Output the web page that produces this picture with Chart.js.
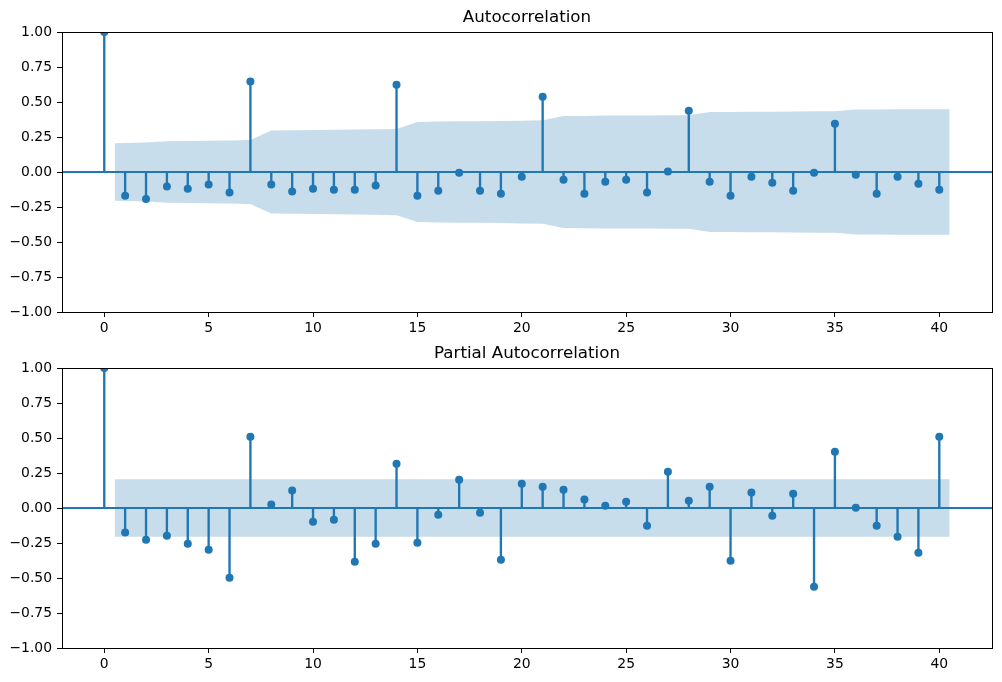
<!DOCTYPE html>
<html>
<head>
<meta charset="utf-8">
<script src="https://cdn.jsdelivr.net/npm/chart.js@4.4.1/dist/chart.umd.min.js"></script>
<style>
  body { margin: 0; background: #fff; }
  canvas { display: block; }
</style>
</head>
<body>
<canvas id="acfChart" width="1002" height="341"></canvas>
<canvas id="pacfChart" width="1002" height="341"></canvas>
<script>
const lags = [0, 1, 2, 3, 4, 5, 6, 7, 8, 9, 10, 11, 12, 13, 14, 15, 16, 17, 18, 19, 20,
              21, 22, 23, 24, 25, 26, 27, 28, 29, 30, 31, 32, 33, 34, 35, 36, 37, 38, 39, 40];

const acfValues = [1.000, -0.169, -0.193, -0.104, -0.119, -0.090, -0.147, 0.646, -0.090, -0.140, -0.119,
                   -0.126, -0.126, -0.097, 0.624, -0.169, -0.133, -0.005, -0.133, -0.155, -0.033,
                   0.538, -0.055, -0.155, -0.069, -0.055, -0.147, 0.003, 0.438, -0.069, -0.169,
                   -0.033, -0.076, -0.133, -0.005, 0.345, -0.019, -0.155, -0.033, -0.083, -0.126];

// half-width of the confidence band, lags 1..40
const acfBand = [0.206, 0.211, 0.219, 0.221, 0.223, 0.225, 0.229, 0.297, 0.298, 0.300,
                 0.302, 0.304, 0.306, 0.308, 0.357, 0.361, 0.363, 0.363, 0.365, 0.367,
                 0.369, 0.400, 0.401, 0.403, 0.404, 0.404, 0.406, 0.406, 0.428, 0.428,
                 0.431, 0.431, 0.432, 0.434, 0.434, 0.446, 0.446, 0.448, 0.449, 0.449];

const pacfValues = [1.000, -0.174, -0.226, -0.198, -0.255, -0.298, -0.498, 0.510, 0.026, 0.126, -0.098,
                    -0.083, -0.383, -0.255, 0.317, -0.248, -0.048, 0.202, -0.033, -0.369, 0.174,
                    0.152, 0.131, 0.060, 0.017, 0.045, -0.126, 0.260, 0.052, 0.152, -0.376,
                    0.110, -0.055, 0.102, -0.562, 0.402, 0.002, -0.126, -0.205, -0.319, 0.510];

const pacfBand = [0.205, 0.205, 0.205, 0.205, 0.205, 0.205, 0.205, 0.205, 0.205, 0.205,
                  0.205, 0.205, 0.205, 0.205, 0.205, 0.205, 0.205, 0.205, 0.205, 0.205,
                  0.205, 0.205, 0.205, 0.205, 0.205, 0.205, 0.205, 0.205, 0.205, 0.205,
                  0.205, 0.205, 0.205, 0.205, 0.205, 0.205, 0.205, 0.205, 0.205, 0.205];

const xTicks = [0, 5, 10, 15, 20, 25, 30, 35, 40];
const yTicks = [-1.00, -0.75, -0.50, -0.25, 0.00, 0.25, 0.50, 0.75, 1.00];

const BLUE = '#1f77b4';
const X_MIN = -2.025, X_MAX = 42.525;
const FONT = "'DejaVu Sans', sans-serif";

// box around the plot area, like matplotlib spines
const framePlugin = {
    id: 'frame',
    afterDraw(chart) {
        const a = chart.chartArea;
        const ctx = chart.ctx;
        ctx.save();
        ctx.strokeStyle = '#000';
        ctx.lineWidth = 1;
        ctx.strokeRect(Math.round(a.left) + 0.5, Math.round(a.top) + 0.5,
                       Math.round(a.right - a.left), Math.round(a.bottom - a.top));
        ctx.restore();
    }
};

function makeCorrChart(canvasId, title, values, band, axisHeight, titlePad) {
    const ctx = document.getElementById(canvasId).getContext('2d');

    // band runs from lag 1 - 0.5 to lag 40 + 0.5
    const bandX = lags.slice(1).map((l, i, arr) => {
        if (i === 0) return l - 0.5;
        if (i === arr.length - 1) return l + 0.5;
        return l;
    });

    new Chart(ctx, {
        type: 'bar',
        data: {
            datasets: [
                {
                    type: 'line',
                    data: bandX.map((x, i) => ({ x: x, y: band[i] })),
                    borderColor: 'rgba(0,0,0,0)',
                    borderWidth: 0,
                    pointRadius: 0,
                    fill: '+1',
                    backgroundColor: 'rgba(31, 119, 180, 0.25)',
                    order: 4
                },
                {
                    type: 'line',
                    data: bandX.map((x, i) => ({ x: x, y: -band[i] })),
                    borderColor: 'rgba(0,0,0,0)',
                    borderWidth: 0,
                    pointRadius: 0,
                    fill: false,
                    order: 4
                },
                {
                    type: 'line',
                    data: [{ x: X_MIN, y: 0 }, { x: X_MAX, y: 0 }],
                    borderColor: BLUE,
                    borderWidth: 1.8,
                    pointRadius: 0,
                    fill: false,
                    order: 3
                },
                {
                    type: 'bar',
                    data: lags.map((l, i) => ({ x: l, y: values[i] })),
                    backgroundColor: BLUE,
                    borderWidth: 0,
                    barThickness: 1.7,
                    order: 2
                },
                {
                    type: 'scatter',
                    data: lags.map((l, i) => ({ x: l, y: values[i] })),
                    backgroundColor: BLUE,
                    borderWidth: 0,
                    pointRadius: 4,
                    clip: 0,
                    order: 1
                }
            ]
        },
        options: {
            responsive: false,
            devicePixelRatio: 1,
            animation: false,
            layout: { padding: { left: 0, right: 10, top: 0, bottom: 0 } },
            plugins: {
                legend: { display: false },
                tooltip: { enabled: false },
                title: {
                    display: true,
                    text: title,
                    fullSize: false,
                    color: '#000',
                    font: { family: FONT, size: 16.7, weight: 'normal', lineHeight: 1.2 },
                    padding: titlePad
                }
            },
            scales: {
                x: {
                    type: 'linear',
                    min: X_MIN,
                    max: X_MAX,
                    offset: false,
                    afterBuildTicks: s => { s.ticks = xTicks.map(v => ({ value: v })); },
                    afterFit: s => { s.height = axisHeight; },
                    grid: { offset: false, drawOnChartArea: false, drawTicks: true, tickLength: 5, color: '#000' },
                    border: { display: false },
                    ticks: {
                        autoSkip: false,
                        maxRotation: 0,
                        padding: 3,
                        color: '#000',
                        font: { family: FONT, size: 13.9 },
                        callback: v => String(v)
                    }
                },
                y: {
                    type: 'linear',
                    min: -1,
                    max: 1,
                    afterBuildTicks: s => { s.ticks = yTicks.map(v => ({ value: v })); },
                    afterFit: s => { s.width = 62; },
                    grid: { offset: false, drawOnChartArea: false, drawTicks: true, tickLength: 5, color: '#000' },
                    border: { display: false },
                    ticks: {
                        padding: 5,
                        color: '#000',
                        font: { family: FONT, size: 13.9 },
                        callback: v => v.toFixed(2).replace('-', '\u2212')
                    }
                }
            }
        },
        plugins: [framePlugin]
    });
}

makeCorrChart('acfChart', 'Autocorrelation', acfValues, acfBand, 29, { top: 8, bottom: 4 });
makeCorrChart('pacfChart', 'Partial Autocorrelation', pacfValues, pacfBand, 34, { top: 3, bottom: 4 });
</script>
</body>
</html>
